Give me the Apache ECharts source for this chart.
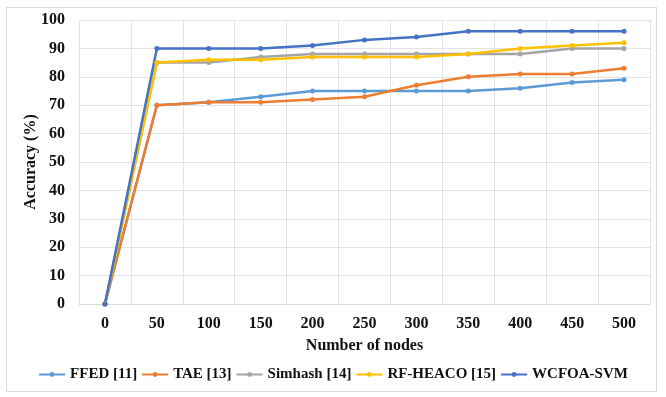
<!DOCTYPE html>
<html>
<head>
<meta charset="utf-8">
<script src="https://cdn.jsdelivr.net/npm/echarts@6/dist/echarts.min.js"></script>
<style>
  html, body { margin: 0; padding: 0; background: #fff; }
  #main { width: 666px; height: 397px; }
  .frame { position: absolute; left: 6px; top: 7px; width: 651px; height: 385px; border: 1px solid #d9d9d9; box-sizing: border-box; pointer-events: none; }
</style>
</head>
<body>
<div id="main"></div>
<div class="frame"></div>
<script>
const categories = ['0', '50', '100', '150', '200', '250', '300', '350', '400', '450', '500']
const ffed = [0, 70, 71, 73, 75, 75, 75, 75, 76, 78, 79]
const tae = [0, 70, 71, 71, 72, 73, 77, 80, 81, 81, 83]
const simhash = [0, 85, 85, 87, 88, 88, 88, 88, 88, 90, 90]
const rfHeaco = [0, 85, 86, 86, 87, 87, 87, 88, 90, 91, 92]
const wcfoa = [0, 90, 90, 90, 91, 93, 94, 96, 96, 96, 96]

const font = 'Liberation Serif'
const chart = echarts.init(document.getElementById('main'))

function line(name, data, color) {
  return {
    name: name,
    type: 'line',
    data: data,
    symbol: 'circle',
    symbolSize: 5,
    lineStyle: { width: 2.5, color: color },
    itemStyle: { color: color },
    emphasis: { disabled: true }
  }
}

chart.setOption({
  animation: false,
  grid: { left: 79, right: 16, top: 20, bottom: 93, outerBoundsMode: 'none' },
  color: ['#5B9BD5', '#ED7D31', '#A5A5A5', '#FFC000', '#4472C4'],
  legend: {
    bottom: 10,
    left: 'center',
    itemWidth: 26,
    itemHeight: 6,
    itemGap: 4,
    textStyle: { fontFamily: font, fontWeight: 'bold', fontSize: 15, color: '#111' }
  },
  xAxis: {
    type: 'category',
    data: categories,
    boundaryGap: true,
    name: 'Number of nodes',
    nameLocation: 'middle',
    nameGap: 34,
    nameMoveOverlap: false,
    nameTextStyle: { fontFamily: font, fontWeight: 'bold', fontSize: 16, color: '#111' },
    axisLine: { lineStyle: { color: '#d9d9d9' } },
    axisTick: { show: false },
    axisLabel: { fontFamily: font, fontWeight: 'bold', fontSize: 16, color: '#111', margin: 12 },
    splitLine: { show: true, interval: 0, lineStyle: { color: '#e3e3e3' } }
  },
  yAxis: {
    type: 'value',
    min: 0,
    max: 100,
    interval: 10,
    name: 'Accuracy (%)',
    nameLocation: 'middle',
    nameGap: 40,
    nameMoveOverlap: false,
    nameTextStyle: { fontFamily: font, fontWeight: 'bold', fontSize: 16, color: '#111' },
    axisLine: { show: false },
    axisTick: { show: false },
    axisLabel: { fontFamily: font, fontWeight: 'bold', fontSize: 16, color: '#111', margin: 14 },
    splitLine: { lineStyle: { color: '#e3e3e3' } }
  },
  series: [
    line('FFED [11]', ffed, '#5B9BD5'),
    line('TAE [13]', tae, '#ED7D31'),
    line('Simhash [14]', simhash, '#A5A5A5'),
    line('RF-HEACO [15]', rfHeaco, '#FFC000'),
    line('WCFOA-SVM', wcfoa, '#4472C4')
  ]
})
</script>
</body>
</html>
